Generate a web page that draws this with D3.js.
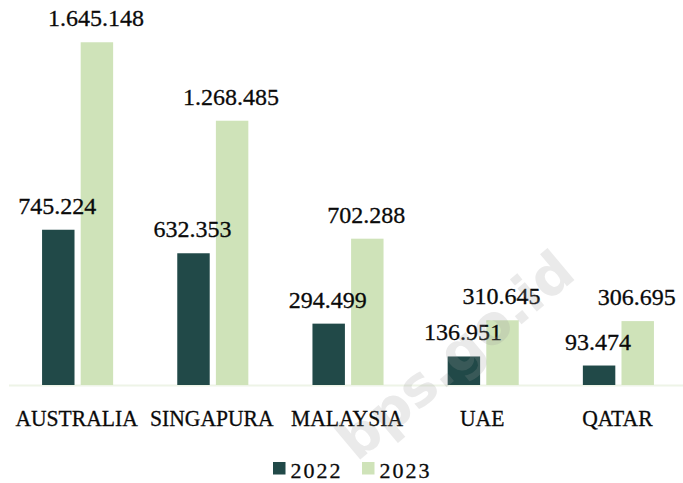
<!DOCTYPE html>
<html>
<head>
<meta charset="utf-8">
<script src="https://cdn.jsdelivr.net/npm/d3@7"></script>
<style>
  body { margin: 0; background: #fff; }
  svg { display: block; }
</style>
</head>
<body>
<div id="chart"></div>
<script>
var width = 683;
var height = 483;

// data
var countries = ["AUSTRALIA", "SINGAPURA", "MALAYSIA", "UAE", "QATAR"];
var years = ["2022", "2023"];
var values2022 = [745224, 632353, 294499, 136951, 93474];
var values2023 = [1645148, 1268485, 702288, 310645, 306695];
var colors = ["#214948", "#cfe3b9"];

// format like 1.645.148
function fmt(v) {
    return d3.format(",")(v).replace(/,/g, ".");
}

var flat = [];
countries.forEach(function(c, i) {
    flat.push({country: c, year: years[0], v: values2022[i], j: 0});
    flat.push({country: c, year: years[1], v: values2023[i], j: 1});
});

var svg = d3.select("#chart")
    .append("svg")
    .attr("width", width)
    .attr("height", height);

var x0 = d3.scaleBand().domain(countries).range([10, 686]);
var x1 = d3.scaleBand().domain(years).range([0, x0.bandwidth()])
    .paddingInner(0.16).paddingOuter(0.83);
var y = d3.scaleLinear().domain([0, 1800000]).range([385, 10]);

function barX(d) { return x0(d.country) + x1(d.year); }

// baseline
svg.append("line")
    .attr("x1", 9).attr("x2", 683)
    .attr("y1", y(0) + 0.5).attr("y2", y(0) + 0.5)
    .attr("stroke", "#eef4e7")
    .attr("stroke-width", 2);

svg.selectAll("rect.bar")
    .data(flat)
    .enter()
    .append("rect")
    .attr("class", "bar")
    .attr("x", barX)
    .attr("width", x1.bandwidth())
    .attr("y", function(d) { return y(d.v); })
    .attr("height", function(d) { return y(0) - y(d.v); })
    .attr("fill", function(d) { return colors[d.j]; });

// value labels on top of everything
svg.selectAll("text.val")
    .data(flat)
    .enter()
    .append("text")
    .attr("class", "val")
    .attr("x", function(d) { return barX(d) + x1.bandwidth() / 2 - 1; })
    .attr("y", function(d) { return y(d.v) - 16; })
    .attr("text-anchor", "middle")
    .style("font-family", "'Liberation Serif', serif")
    .style("font-size", "24px")
    .style("fill", "#0a0a0a")
    .style("stroke", "#0a0a0a")
    .style("stroke-width", 0.3)
    .text(function(d) { return fmt(d.v); });

// category labels (narrow serif)
svg.selectAll("text.cat")
    .data(countries)
    .enter()
    .append("text")
    .attr("class", "cat")
    .attr("transform", function(d) {
        return "translate(" + (x0(d) + x0.bandwidth() / 2 - 1) + ",426) scale(0.92,1)";
    })
    .attr("text-anchor", "middle")
    .style("font-family", "'Liberation Serif', serif")
    .style("font-size", "23.5px")
    .style("fill", "#0a0a0a")
    .style("stroke", "#0a0a0a")
    .style("stroke-width", 0.3)
    .text(function(d) { return d; });

// legend
var legend = svg.append("g").attr("transform", "translate(273,462)");
var legX = [0, 89];
years.forEach(function(yr, i) {
    var g = legend.append("g").attr("transform", "translate(" + legX[i] + ",0)");
    g.append("rect")
        .attr("width", 12.5).attr("height", 12.5)
        .attr("fill", colors[i]);
    g.append("text")
        .attr("x", 17.5)
        .attr("y", 15.5)
        .style("font-family", "'Liberation Serif', serif")
        .style("font-size", "22px")
        .style("letter-spacing", "2px")
        .style("fill", "#0a0a0a")
        .style("stroke", "#0a0a0a")
        .style("stroke-width", 0.3)
        .text(yr);
});

// watermark
svg.append("text")
    .attr("transform", "translate(455,355) rotate(-40)")
    .attr("text-anchor", "middle")
    .attr("dy", "0.35em")
    .style("font-family", "'DejaVu Sans', sans-serif")
    .style("font-weight", "bold")
    .style("font-size", "55px")
    .style("fill", "#999")
    .style("opacity", 0.2)
    .text("bps.go.id");
</script>
</body>
</html>
